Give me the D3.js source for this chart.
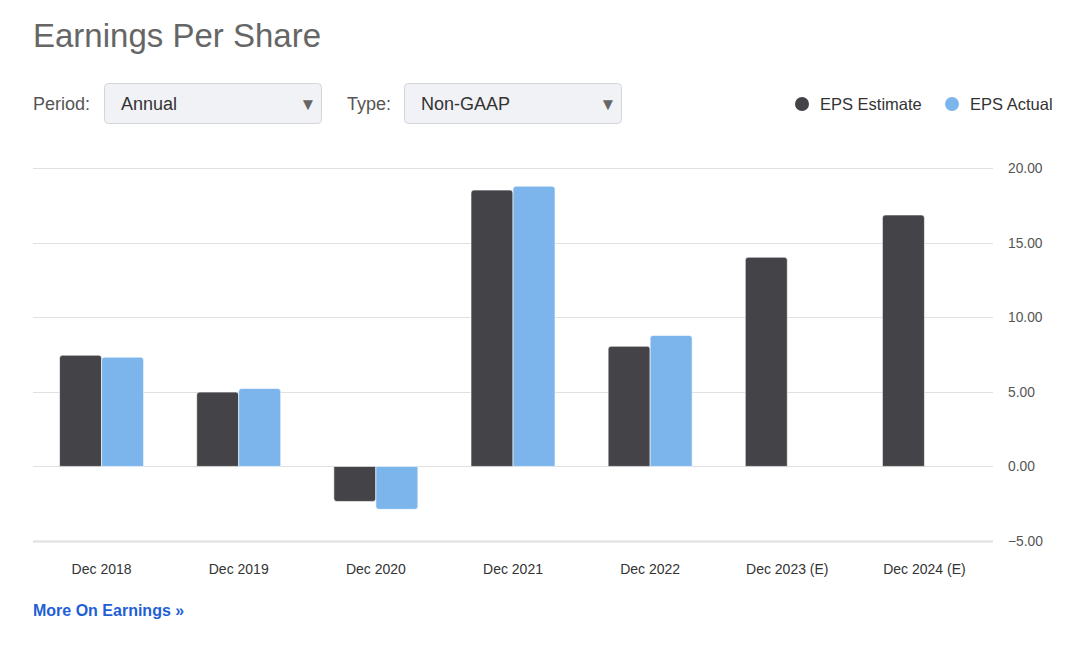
<!DOCTYPE html>
<html>
<head>
<meta charset="utf-8">
<script src="https://cdn.jsdelivr.net/npm/d3@7"></script>
<style>
  body { margin: 0; background: #fff; font-family: "Liberation Sans", Arial, sans-serif; }
</style>
</head>
<body>
<svg id="chart" width="1086" height="650"></svg>
<script>
"use strict";

const categories = ["Dec 2018", "Dec 2019", "Dec 2020", "Dec 2021", "Dec 2022", "Dec 2023 (E)", "Dec 2024 (E)"];
const epsEstimate = [7.45, 4.98, -2.35, 18.52, 8.05, 14.02, 16.85];
const epsActual = [7.32, 5.22, -2.88, 18.78, 8.78, null, null];
const yTicks = [-5, 0, 5, 10, 15, 20];

const series = [
    { name: "EPS Estimate", color: "#434348", values: epsEstimate },
    { name: "EPS Actual", color: "#7cb5ec", values: epsActual }
];

const svg = d3.select("#chart");

// header
svg.append("text")
    .attr("x", 33).attr("y", 47)
    .attr("font-size", 33).attr("fill", "#666")
    .text("Earnings Per Share");

function dropdown(labelX, label, boxX, boxW, value) {
    svg.append("text")
        .attr("x", labelX).attr("y", 110)
        .attr("font-size", 18).attr("fill", "#555")
        .text(label);
    svg.append("rect")
        .attr("x", boxX + 0.5).attr("y", 83.5)
        .attr("width", boxW).attr("height", 40)
        .attr("rx", 4)
        .attr("fill", "#f1f2f6").attr("stroke", "#d4d5d9");
    svg.append("text")
        .attr("x", boxX + 17).attr("y", 110)
        .attr("font-size", 18).attr("fill", "#333")
        .text(value);
    svg.append("text")
        .attr("x", boxX + boxW - 13).attr("y", 110)
        .attr("text-anchor", "middle")
        .attr("font-size", 17).attr("fill", "#666")
        .text("▼");
}
dropdown(33, "Period:", 104, 217, "Annual");
dropdown(347, "Type:", 404, 217, "Non-GAAP");

// legend
const legend = svg.append("g");
const legendPos = [802, 952];
series.forEach((s, i) => {
    legend.append("circle")
        .attr("cx", legendPos[i]).attr("cy", 104).attr("r", 7)
        .attr("fill", s.color);
    legend.append("text")
        .attr("x", legendPos[i] + 18).attr("y", 110)
        .attr("font-size", 16.5).attr("fill", "#333")
        .text(s.name);
});

// scales
const x = d3.scaleBand().domain(categories).range([33, 993]);
const y = d3.scaleLinear().domain([-5, 20]).range([541, 168]);
const barW = 42;

// grid + y labels
const grid = svg.append("g");
grid.selectAll("line")
    .data(yTicks)
    .join("line")
    .attr("x1", 33).attr("x2", 993)
    .attr("y1", d => Math.round(y(d)) + 0.5).attr("y2", d => Math.round(y(d)) + 0.5)
    .attr("stroke", "#e0e0e0").attr("stroke-width", d => d === -5 ? 2 : 1);

grid.selectAll("text")
    .data(yTicks)
    .join("text")
    .attr("x", 1008).attr("y", d => y(d) + 5)
    .attr("font-size", 13.8).attr("fill", "#555")
    .text(d => d3.format(".2f")(d));

// bar shape rounded at the value end
function barPath(x0, w, v) {
    const y0 = y(0), y1 = y(v), r = 3;
    if (v >= 0) {
        return `M${x0},${y0} V${y1 + r} Q${x0},${y1} ${x0 + r},${y1} H${x0 + w - r} Q${x0 + w},${y1} ${x0 + w},${y1 + r} V${y0} Z`;
    }
    return `M${x0},${y0} V${y1 - r} Q${x0},${y1} ${x0 + r},${y1} H${x0 + w - r} Q${x0 + w},${y1} ${x0 + w},${y1 - r} V${y0} Z`;
}

series.forEach((s, i) => {
    const rows = categories.map((c, j) => ({ c, v: s.values[j] })).filter(d => d.v != null);
    svg.append("g")
        .selectAll("path")
        .data(rows)
        .join("path")
        .attr("d", d => {
            const cx = x(d.c) + x.bandwidth() / 2;
            return barPath(cx - barW + i * barW, barW, d.v);
        })
        .attr("fill", s.color)
        .attr("stroke", "#fff").attr("stroke-width", 0.6);
});

// x axis labels
svg.append("g")
    .selectAll("text")
    .data(categories)
    .join("text")
    .attr("x", d => x(d) + x.bandwidth() / 2)
    .attr("y", 574)
    .attr("text-anchor", "middle")
    .attr("font-size", 14).attr("fill", "#333")
    .text(d => d);

// footer link
svg.append("text")
    .attr("x", 33).attr("y", 616)
    .attr("font-size", 16).attr("font-weight", "bold").attr("fill", "#1f5fd6")
    .text("More On Earnings »");
</script>
</body>
</html>
